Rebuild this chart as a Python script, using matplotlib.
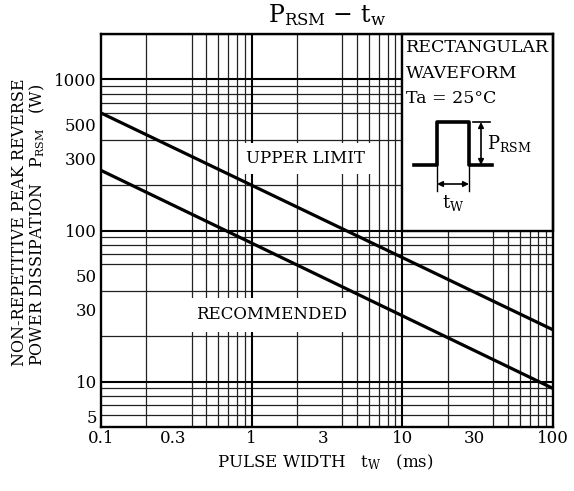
import numpy as np
import matplotlib
matplotlib.use("Agg")
import matplotlib.pyplot as plt
from matplotlib.ticker import FixedLocator, LogLocator, NullFormatter, FixedFormatter
from matplotlib.patches import Rectangle

plt.rcParams['font.family'] = ['DejaVu Serif']
plt.rcParams['mathtext.fontset'] = 'dejavuserif'

# data (pulse width ms, power W)
pulse_ms = [0.1, 100]
upper_limit_w = [600, 22]
recommended_w = [250, 9]

x_ticks = [0.1, 0.3, 1, 3, 10, 30, 100]
x_labels = ["0.1", "0.3", "1", "3", "10", "30", "100"]
y_ticks = [5, 10, 30, 50, 100, 300, 500, 1000]
y_labels = ["5", "10", "30", "50", "100", "300", "500", "1000"]

W, H = 574, 491
fig = plt.figure(figsize=(W / 100, H / 100), dpi=100)


def fx(x):
    return x / W


def fy(y):
    return 1 - y / H


ax = fig.add_axes([fx(101), fy(427), 452 / W, 393 / H])
ax.set_xscale('log')
ax.set_yscale('log')
ax.set_xlim(0.1, 100)
ax.set_ylim(5, 2000)

ax.xaxis.set_major_locator(FixedLocator(x_ticks))
ax.xaxis.set_major_formatter(FixedFormatter(x_labels))
ax.yaxis.set_major_locator(FixedLocator(y_ticks))
ax.yaxis.set_major_formatter(FixedFormatter(y_labels))
ax.xaxis.set_minor_locator(LogLocator(base=10, subs=np.arange(1, 10)))
ax.yaxis.set_minor_locator(LogLocator(base=10, subs=np.arange(1, 10)))
ax.xaxis.set_minor_formatter(NullFormatter())
ax.yaxis.set_minor_formatter(NullFormatter())
ax.tick_params(which='both', length=0, labelsize=12, pad=3)
ax.tick_params(axis='x', pad=2)
# the "5" sits just above the corner in the original
ax.get_yticklabels()[0].set_va('bottom')

ax.grid(which='minor', color='#222222', lw=0.9)
for d in [1, 10]:
    ax.axvline(d, color='black', lw=1.5, zorder=1.6)
for d in [10, 100, 1000]:
    ax.axhline(d, color='black', lw=1.5, zorder=1.6)

for s in ax.spines.values():
    s.set_linewidth(1.7)

# curves
ax.plot(pulse_ms, upper_limit_w, color='black', lw=2.3, zorder=3, solid_capstyle='butt')
ax.plot(pulse_ms, recommended_w, color='black', lw=2.3, zorder=3, solid_capstyle='butt')

ax.text(2.26, 300, "UPPER LIMIT", ha='center', va='center', fontsize=12, zorder=4,
        bbox=dict(facecolor='white', edgecolor='none', pad=5))
ax.text(1.35, 27.6, "RECOMMENDED", ha='center', va='center', fontsize=12, zorder=4,
        bbox=dict(facecolor='white', edgecolor='none', pad=6))

# inset box
ax.add_patch(Rectangle((10, 100), 90, 1900, facecolor='white', edgecolor='black',
                       lw=1.7, zorder=2.5, clip_on=False))

tf = fig.transFigure
fig.text(fx(406), fy(47), "RECTANGULAR", ha='left', va='center', fontsize=12.5)
fig.text(fx(406), fy(73), "WAVEFORM", ha='left', va='center', fontsize=12.5)
fig.text(fx(406), fy(98), "Ta = 25°C", ha='left', va='center', fontsize=12.5)

px_x = [414, 437, 437, 469, 469, 492]
px_y = [165, 165, 122, 122, 165, 165]
fig.add_artist(plt.Line2D([fx(v) for v in px_x], [fy(v) for v in px_y],
                          transform=tf, color='black', lw=2.6))
fig.add_artist(plt.Line2D([fx(473), fx(490)], [fy(122), fy(122)], transform=tf,
                          color='black', lw=1.2))
fig.add_artist(plt.Line2D([fx(437), fx(437)], [fy(165), fy(191)], transform=tf,
                          color='black', lw=1.0))
fig.add_artist(plt.Line2D([fx(469), fx(469)], [fy(165), fy(191)], transform=tf,
                          color='black', lw=1.0))
ax.annotate("", xy=(fx(481), fy(122)), xytext=(fx(481), fy(165)), xycoords=tf,
            textcoords=tf, arrowprops=dict(arrowstyle='<|-|>', color='black', lw=1.2,
                                           mutation_scale=8, shrinkA=0, shrinkB=0))
ax.annotate("", xy=(fx(437), fy(184)), xytext=(fx(469), fy(184)), xycoords=tf,
            textcoords=tf, arrowprops=dict(arrowstyle='<|-|>', color='black', lw=1.2,
                                           mutation_scale=8, shrinkA=0, shrinkB=0))
fig.text(fx(487), fy(143), r"P$_{\mathregular{RSM}}$", ha='left', va='center', fontsize=13)
fig.text(fx(453), fy(203), r"t$_{\mathregular{W}}$", ha='center', va='center', fontsize=13)

# titles and labels
fig.text(fx(327), fy(15), r"P$_{\mathregular{RSM}}$ $-$ t$_{\mathregular{w}}$",
         ha='center', va='center', fontsize=17)
fig.text(fx(325), fy(462), r"PULSE WIDTH   t$_{\mathregular{W}}$   (ms)",
         ha='center', va='center', fontsize=12)
fig.text(fx(24), fy(366), "NON-REPETITIVE PEAK REVERSE", rotation=90,
         rotation_mode='anchor', ha='left', va='baseline', fontsize=11.5)
fig.text(fx(42), fy(366), r"POWER DISSIPATION   P$_{\mathregular{RSM}}$   (W)", rotation=90,
         rotation_mode='anchor', ha='left', va='baseline', fontsize=11.5)

fig.savefig("out.png", dpi=100)
